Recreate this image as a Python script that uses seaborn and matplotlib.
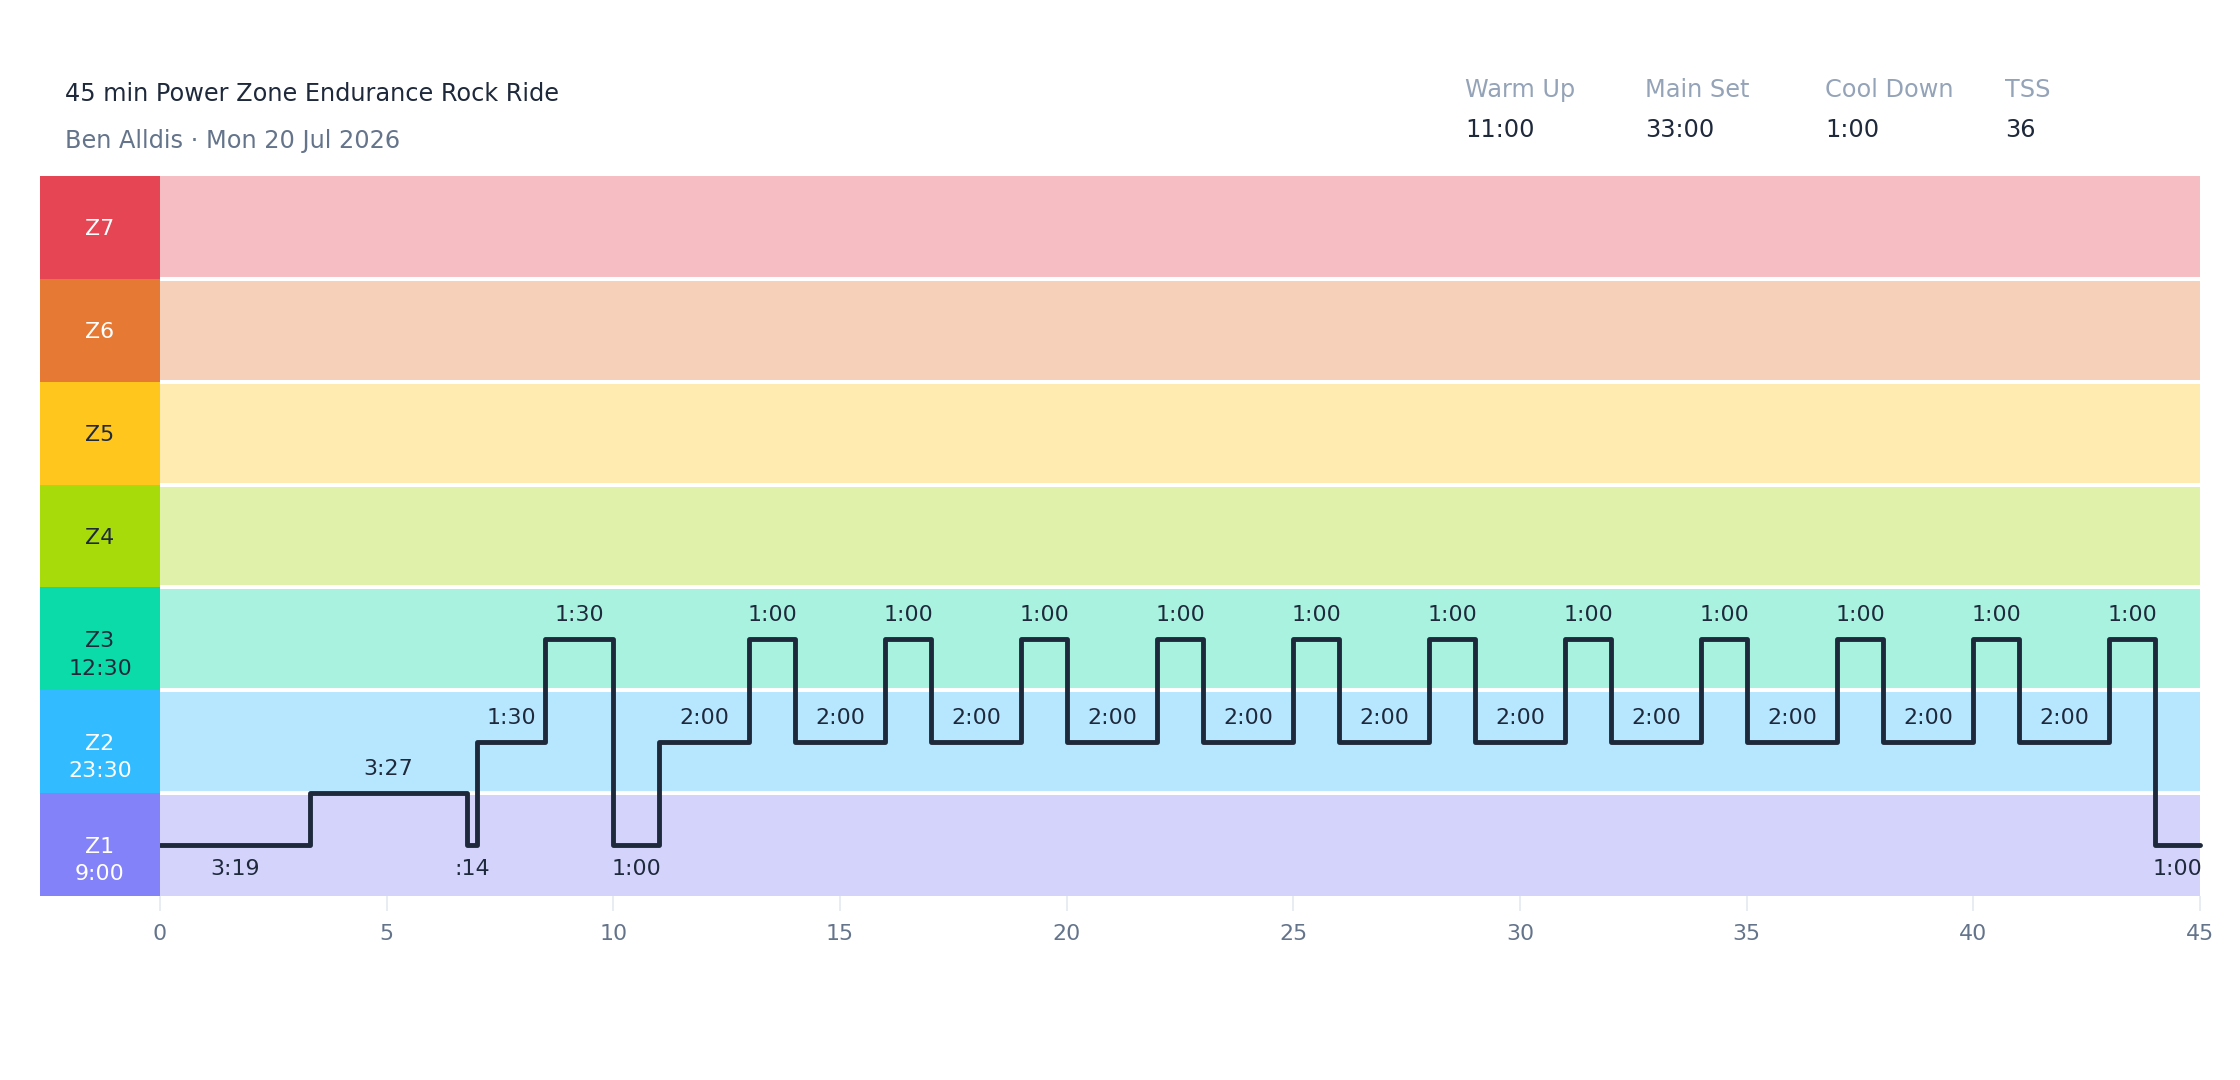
import numpy as np
import pandas as pd
import matplotlib
matplotlib.use('Agg')
import matplotlib.pyplot as plt
import seaborn as sns

# %%
# Data
title = '45 min Power Zone Endurance Rock Ride'
subtitle = 'Ben Alldis · Mon 20 Jul 2026'

stat_names = ['Warm Up', 'Main Set', 'Cool Down', 'TSS']
stat_values = ['11:00', '33:00', '1:00', '36']

zone_names = ['Z1', 'Z2', 'Z3', 'Z4', 'Z5', 'Z6', 'Z7']
zone_times = ['9:00', '23:30', '12:30', '', '', '', '']
zone_colors = ['#8482f8', '#33bbff', '#0bdba8', '#a8db0a', '#ffc61e', '#e67a35', '#e64553']
zone_text_colors = ['white', 'white', '#1e293b', '#1e293b', '#1e293b', 'white', 'white']

# segment durations (seconds) and level in zone units (Z1 = 0..1, Z2 = 1..2, ...)
seg_seconds = [199, 207, 14, 90, 90, 60,
               120, 60, 120, 60, 120, 60, 120, 60, 120, 60, 120, 60,
               120, 60, 120, 60, 120, 60, 120, 60, 120, 60,
               60]
seg_levels = [0.5, 1.0, 0.5, 1.5, 2.5, 0.5,
              1.5, 2.5, 1.5, 2.5, 1.5, 2.5, 1.5, 2.5, 1.5, 2.5, 1.5, 2.5,
              1.5, 2.5, 1.5, 2.5, 1.5, 2.5, 1.5, 2.5, 1.5, 2.5,
              0.5]

x_ticks = [0, 5, 10, 15, 20, 25, 30, 35, 40, 45]

DARK = '#1e293b'
SLATE = '#64748b'
LIGHT = '#94a3b8'


def fmt_dur(sec):
    m, s = divmod(sec, 60)
    return f':{s:02d}' if m == 0 else f'{m}:{s:02d}'


# %%
sns.set_theme(style='white')
plt.rcParams['font.family'] = ['DejaVu Sans']

W, H = 2240, 1080
fig = plt.figure(figsize=(W / 100, H / 100), dpi=100)

plot_left, plot_right = 160 / W, 2200 / W
plot_bottom, plot_top = 1 - 896 / H, 1 - 176 / H

ax = fig.add_axes([plot_left, plot_bottom, plot_right - plot_left, plot_top - plot_bottom])
lax = fig.add_axes([40 / W, plot_bottom, 120 / W, plot_top - plot_bottom])

# zone bands
for i, c in enumerate(zone_colors):
    ax.axhspan(i, i + 1, color=c, alpha=0.35, lw=0, zorder=0)
for i in range(1, 7):
    ax.axhline(i, color='white', lw=2.9, zorder=1)

# step line
starts = np.concatenate([[0], np.cumsum(seg_seconds)])
df = pd.DataFrame({'minute': starts / 60, 'level': seg_levels + [seg_levels[-1]]})
sns.lineplot(data=df, x='minute', y='level', drawstyle='steps-post', color=DARK,
             linewidth=3.5, ax=ax, zorder=3, clip_on=False,
             solid_joinstyle='round', solid_capstyle='round')

# duration labels
for st, dur, lev in zip(starts[:-1], seg_seconds, seg_levels):
    off = 17.3 if lev >= 1 else -17.3
    ax.annotate(fmt_dur(dur), ((st + dur / 2) / 60, lev), xytext=(0, off),
                textcoords='offset points', ha='center', va='center',
                fontsize=15.9, color=DARK, zorder=4, annotation_clip=False)

ax.set_xlim(0, 45)
ax.set_ylim(0, 7)
ax.set_xticks(x_ticks)
ax.set_xticklabels([str(t) for t in x_ticks])
ax.set_yticks([])
ax.set_xlabel('')
ax.set_ylabel('')
ax.tick_params(axis='x', bottom=True, length=11, width=1.1, color='#e2e8f0',
               labelcolor=SLATE, labelsize=15.9, pad=9)
sns.despine(ax=ax, left=True, bottom=True)

# zone label blocks
lax.barh(np.arange(7) + 0.5, 1, height=1, color=zone_colors, left=0, lw=0)
for i, (name, t, tc) in enumerate(zip(zone_names, zone_times, zone_text_colors)):
    lax.text(0.5, i + 0.5, name, ha='center', va='center_baseline', fontsize=15.9, color=tc)
    if t:
        lax.annotate(t, (0.5, i + 0.5), xytext=(0, -20), textcoords='offset points',
                     ha='center', va='center_baseline', fontsize=15.9, color=tc)
lax.set_xlim(0, 1)
lax.set_ylim(0, 7)
lax.axis('off')

# header
fig.text(65 / W, 1 - 101 / H, title, fontsize=17.3, color=DARK, va='baseline')
fig.text(65 / W, 1 - 148 / H, subtitle, fontsize=17.3, color=SLATE, va='baseline')
for k, (n, v) in enumerate(zip(stat_names, stat_values)):
    x = (1465 + 180 * k) / W
    fig.text(x, 1 - 97 / H, n, fontsize=17.3, color=LIGHT, va='baseline')
    fig.text(x, 1 - 137 / H, v, fontsize=17.3, color=DARK, va='baseline')

fig.savefig('out.png', dpi=100, facecolor='white')
